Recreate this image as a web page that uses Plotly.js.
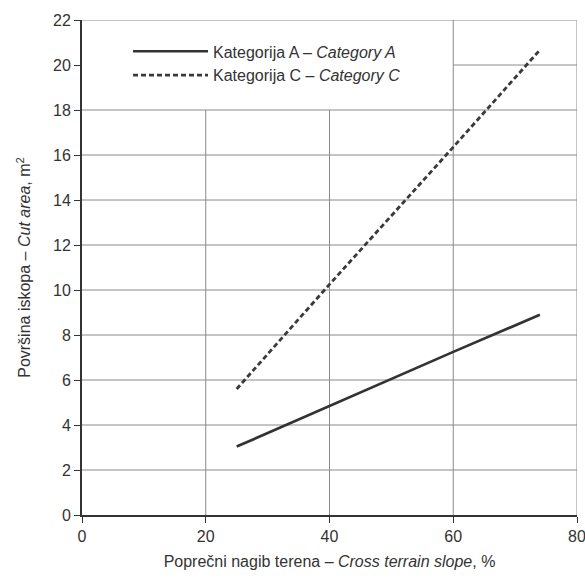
<!DOCTYPE html>
<html>
<head>
<meta charset="utf-8">
<script src="https://cdn.plot.ly/plotly-3.0.1.min.js"></script>
<style>html,body{margin:0;padding:0;background:#fff;}#chart{width:585px;height:585px;}</style>
</head>
<body>
<div id="chart"></div>
<script>
const slopeA = [25, 40, 60, 74];
const areaA = [3.04, 4.85, 7.25, 8.9];
const slopeC = [25, 40, 60, 74];
const areaC = [5.6, 10.25, 16.35, 20.67];
const xTicks = [0, 20, 40, 60, 80];
const yTicks = [0, 2, 4, 6, 8, 10, 12, 14, 16, 18, 20, 22];
const nameA = 'Kategorija A – <i>Category A</i>';
const nameC = 'Kategorija C – <i>Category C</i>';

const FONT = '"Liberation Sans", Arial, sans-serif';
const gridColor = '#8a8a8a';
const shapes = [];
function hline(y, x0, x1) {
  shapes.push({type:'line', xref:'x', yref:'y', x0:x0, x1:x1, y0:y, y1:y, layer:'below', line:{color:gridColor, width:1}});
}
function vline(x, y0, y1) {
  shapes.push({type:'line', xref:'x', yref:'y', x0:x, x1:x, y0:y0, y1:y1, layer:'below', line:{color:gridColor, width:1}});
}
yTicks.forEach(function(y){
  if (y === 0) return;
  if (y <= 18) hline(y, 0, 80);
  else if (y === 20) hline(y, 60, 80);
  else if (y === 22) hline(y, 0, 80);
});
xTicks.forEach(function(x){
  if (x === 0) return;
  if (x === 60 || x === 80) vline(x, 0, 22);
  else vline(x, 0, 18);
});

const traces = [
  {x: slopeA, y: areaA, name: nameA, mode: 'lines', type: 'scatter',
   line: {color: '#333333', width: 2.7}},
  {x: slopeC, y: areaC, name: nameC, mode: 'lines', type: 'scatter',
   line: {color: '#3a3a3a', width: 2.8, dash: '5px,3px'}}
];

const layout = {
  width: 585, height: 585,
  margin: {l: 82, r: 8, t: 20, b: 70},
  paper_bgcolor: '#ffffff', plot_bgcolor: '#ffffff',
  font: {family: FONT, size: 16, color: '#333333'},
  showlegend: true,
  legend: {x: 0.093, y: 0.971, xanchor: 'left', yanchor: 'top', bgcolor: 'rgba(0,0,0,0)',
           itemwidth: 75, font: {family: FONT, size: 16, color: '#333333'}, tracegroupgap: 0},
  xaxis: {range: [0, 80], tickvals: xTicks, ticktext: xTicks.map(String), showgrid: false, zeroline: false,
          showline: true, linecolor: '#333333', linewidth: 2, ticks: 'outside', ticklen: 6, tickwidth: 1,
          tickcolor: '#333333', fixedrange: true, ticklabeloverflow: 'allow',
          title: {text: 'Poprečni nagib terena – <i>Cross terrain slope</i>, %', standoff: 12,
                  font: {family: FONT, size: 16, color: '#333333'}}},
  yaxis: {range: [0, 22], tickvals: yTicks, ticktext: yTicks.map(String), showgrid: false, zeroline: false,
          showline: true, linecolor: '#333333', linewidth: 2, ticks: 'outside', ticklen: 6, tickwidth: 1,
          tickcolor: '#333333', fixedrange: true, ticklabeloverflow: 'allow',
          title: {text: 'Površina iskopa – <i>Cut area</i>, m<sup>2</sup>', standoff: 18,
                  font: {family: FONT, size: 16, color: '#333333'}}},
  shapes: shapes
};

Plotly.newPlot('chart', traces, layout, {displayModeBar: false, staticPlot: true});
</script>
</body>
</html>
